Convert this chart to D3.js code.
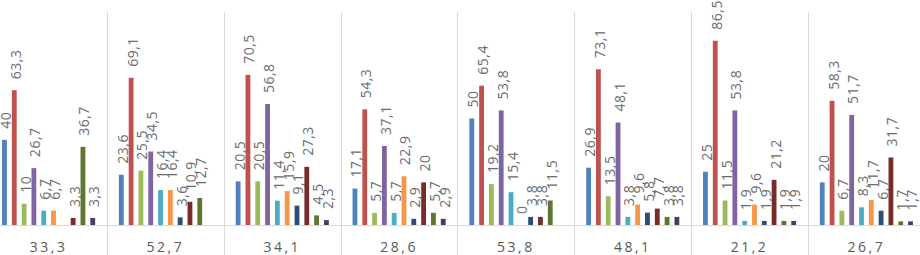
<!DOCTYPE html>
<html><head><meta charset="utf-8">
<script src="https://cdn.jsdelivr.net/npm/d3@7"></script>
<style>body{margin:0;background:#fff}svg{display:block}</style>
</head><body>
<svg id="c" width="920" height="255"></svg>
<script>
const categories = ["33,3","52,7","34,1","28,6","53,8","48,1","21,2","26,7"];
const seriesNames = ["S1","S2","S3","S4","S5","S6","S7","S8","S9","S10"];
const colors = ["#4F81BD","#C0504D","#9BBB59","#8064A2","#4BACC6","#F79646","#2C4D75","#772C2A","#5F7530","#4D3B62"];
const s1  = [40, 23.6, 20.5, 17.1, 50, 26.9, 25, 20];
const s2  = [63.3, 69.1, 70.5, 54.3, 65.4, 73.1, 86.5, 58.3];
const s3  = [10, 25.5, 20.5, 5.7, 19.2, 13.5, 11.5, 6.7];
const s4  = [26.7, 34.5, 56.8, 37.1, 53.8, 48.1, 53.8, 51.7];
const s5  = [6.7, 16.4, 11.4, 5.7, 15.4, 3.8, 1.9, 8.3];
const s6  = [6.7, 16.4, 15.9, 22.9, 0, 9.6, 9.6, 11.7];
const s7  = [null, 3.6, 9.1, 2.9, 3.8, 5.8, 1.9, 6.7];
const s8  = [3.3, 10.9, 27.3, 20, 3.8, 7.7, 21.2, 31.7];
const s9  = [36.7, 12.7, 4.5, 5.7, 11.5, 3.8, 1.9, 1.7];
const s10 = [3.3, null, 2.3, 2.9, null, 3.8, 1.9, 1.7];
const series = [s1,s2,s3,s4,s5,s6,s7,s8,s9,s10];

const svg = d3.select("#c");
const x0 = d3.scaleBand().domain(categories).range([-9.8, 924.8]).paddingInner(0).paddingOuter(0);
const x1 = d3.scaleBand().domain(seriesNames).range([0, x0.bandwidth()]).paddingInner(0.51).paddingOuter(1.21);
const y = d3.scaleLinear().domain([0, 100]).range([225, 12]);
const fmt = v => String(v).replace(".", ",");

// separators
svg.append("g").selectAll("line").data(categories.slice(1)).join("line")
  .attr("x1", d => Math.round(x0(d)) + 0.5).attr("x2", d => Math.round(x0(d)) + 0.5)
  .attr("y1", y(100)).attr("y2", 255)
  .attr("stroke", "#D9D9D9").attr("stroke-width", 1);
// baseline
svg.append("line").attr("x1", 0).attr("x2", 920).attr("y1", y(0) + 0.5).attr("y2", y(0) + 0.5)
  .attr("stroke", "#D9D9D9");

const groups = svg.append("g").selectAll("g").data(categories).join("g")
  .attr("transform", d => `translate(${x0(d)},0)`);

groups.each(function(cat, ci) {
  const g = d3.select(this);
  series.forEach((s, si) => {
    const v = s[ci];
    if (v === null) return;
    const bx = x1(seriesNames[si]);
    g.append("rect").attr("x", bx).attr("width", x1.bandwidth())
      .attr("y", y(v)).attr("height", y(0) - y(v)).attr("fill", colors[si]);
    const cx = bx + x1.bandwidth() / 2 + 6.5;
    const ty = y(v) - 11;
    g.append("text").attr("transform", `translate(${cx},${ty}) rotate(-90)`)
      .attr("font-family", "Open Sans").attr("font-size", 14).attr("fill", "#6b6b6b")
      .attr("letter-spacing", 0.5)
      .text(fmt(v));
  });
  g.append("text").attr("x", x0.bandwidth() / 2).attr("y", 252)
    .attr("text-anchor", "middle").attr("font-family", "Open Sans").attr("font-size", 14)
    .attr("letter-spacing", 2.5).attr("fill", "#595959").text(cat);
});
</script>
</body></html>
